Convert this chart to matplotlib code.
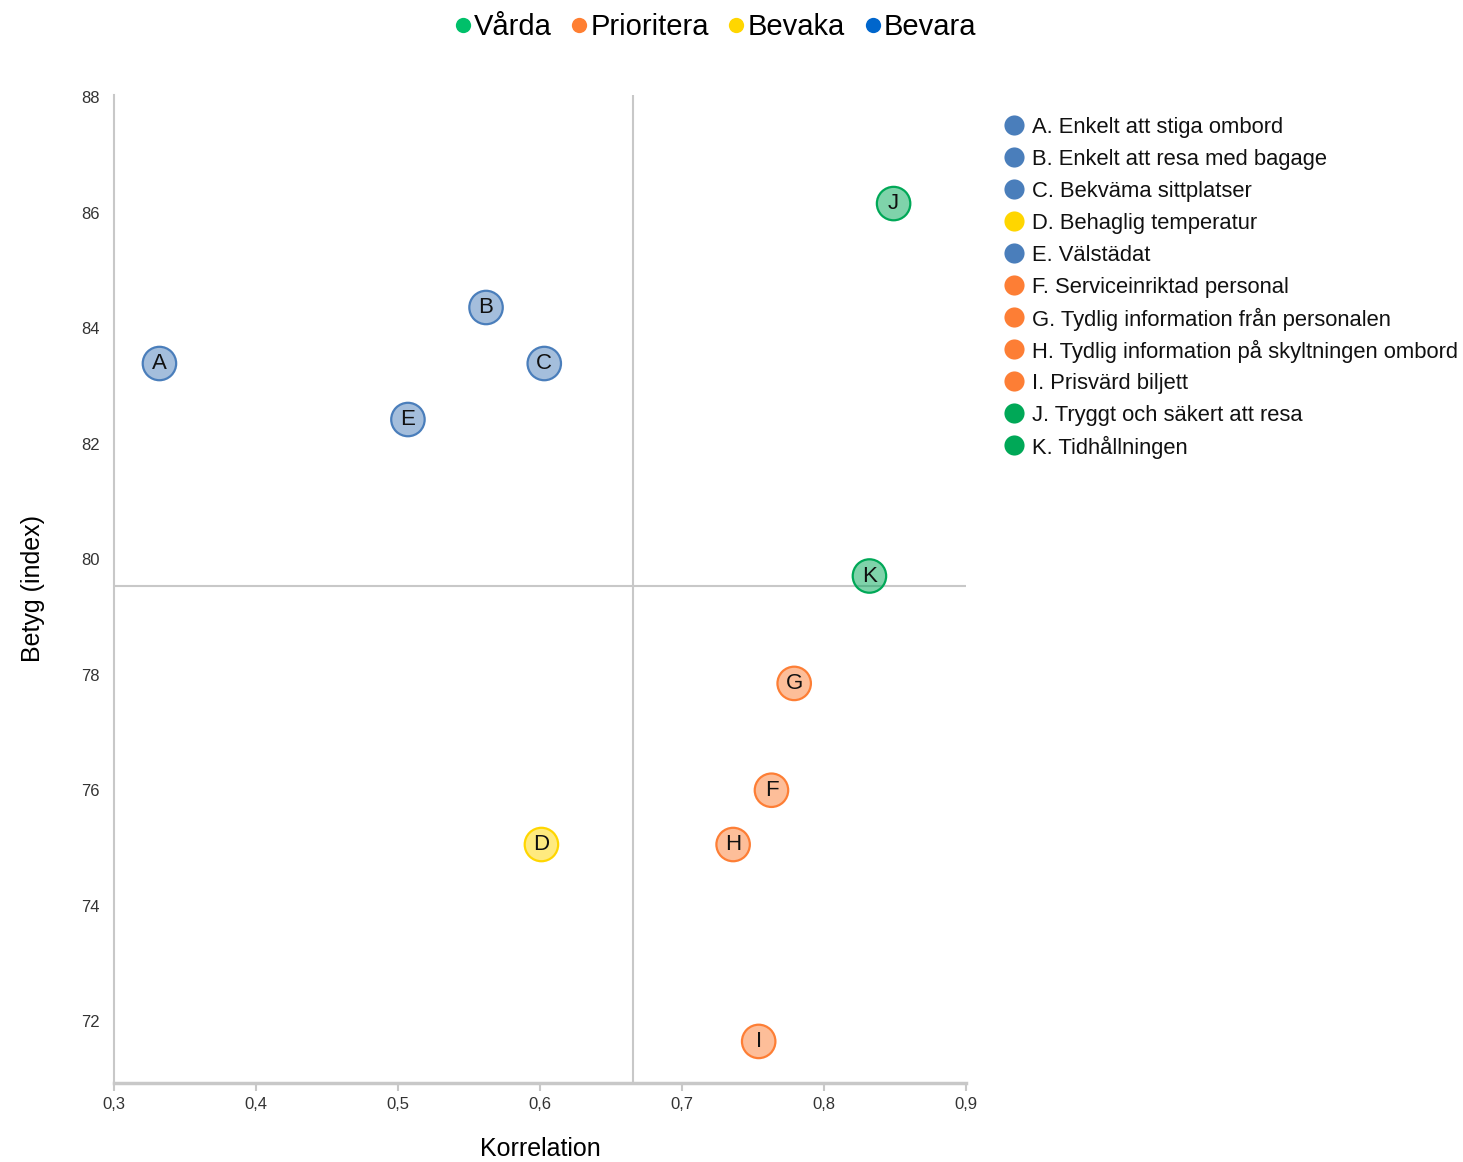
import matplotlib.pyplot as plt
from matplotlib.lines import Line2D

# --- DATA ---
letters = ["A", "B", "C", "D", "E", "F", "G", "H", "I", "J", "K"]
names = [
    "Enkelt att stiga ombord",
    "Enkelt att resa med bagage",
    "Bekväma sittplatser",
    "Behaglig temperatur",
    "Välstädat",
    "Serviceinriktad personal",
    "Tydlig information från personalen",
    "Tydlig information på skyltningen ombord",
    "Prisvärd biljett",
    "Tryggt och säkert att resa",
    "Tidhållningen",
]
korrelation = [0.332, 0.562, 0.603, 0.601, 0.507, 0.763, 0.779, 0.736, 0.754, 0.849, 0.832]
betyg = [83.39, 84.36, 83.39, 75.06, 82.42, 76.0, 77.85, 75.06, 71.65, 86.16, 79.71]
kategori = ["Bevara", "Bevara", "Bevara", "Bevaka", "Bevara",
            "Prioritera", "Prioritera", "Prioritera", "Prioritera",
            "Vårda", "Vårda"]

mean_korrelation = 0.6655
mean_betyg = 79.53

quadrants = ["Vårda", "Prioritera", "Bevaka", "Bevara"]
quadrant_colors = {"Vårda": "#00c06a", "Prioritera": "#ff7f32", "Bevaka": "#ffd600", "Bevara": "#0066cc"}
point_colors = {"Vårda": "#00a857", "Prioritera": "#fd7e35", "Bevaka": "#ffd600", "Bevara": "#4a7ebb"}

REG = ["Liberation Sans", "DejaVu Sans"]
W, H = 1463, 1162

# --- PLOT ---
fig = plt.figure(figsize=(W / 100, H / 100), dpi=100)
ax = fig.add_axes([114 / W, 1 - 1083 / H, (966 - 114) / W, (1083 - 95) / H])

ax.set_xlim(0.3, 0.9)
ax.set_ylim(70.93, 88.04)

ax.axvline(mean_korrelation, color="#c8c8c8", lw=1.5, zorder=1)
ax.axhline(mean_betyg, color="#c8c8c8", lw=1.5, zorder=1)

for x, y, lab, cat in zip(korrelation, betyg, letters, kategori):
    c = point_colors[cat]
    ax.scatter(x, y, s=580, facecolor=c, alpha=0.5, edgecolor="none", zorder=3)
    ax.scatter(x, y, s=580, facecolor="none", edgecolor=c, linewidth=1.6, zorder=4)
    ax.text(x, y, lab, ha="center", va="center", fontsize=16, family=REG, color="#111111", zorder=5)

for s in ["top", "right"]:
    ax.spines[s].set_visible(False)
ax.spines["left"].set_color("#c8c8c8")
ax.spines["left"].set_linewidth(1.5)
ax.spines["bottom"].set_color("#c8c8c8")
ax.spines["bottom"].set_linewidth(2.5)

xt = [0.3, 0.4, 0.5, 0.6, 0.7, 0.8, 0.9]
ax.set_xticks(xt)
ax.set_xticklabels([f"{v:.1f}".replace(".", ",") for v in xt], family=REG, fontsize=12, color="#333333")
yt = [72, 74, 76, 78, 80, 82, 84, 86, 88]
ax.set_yticks(yt)
ax.set_yticklabels([str(v) for v in yt], family=REG, fontsize=12, color="#333333")
ax.tick_params(axis="x", length=6, width=1.5, color="#c8c8c8", pad=4)
ax.tick_params(axis="y", length=0, pad=10)

ax.set_xlabel("Korrelation", family=REG, fontsize=18, labelpad=18)
ax.set_ylabel("Betyg (index)", family=REG, fontsize=18, labelpad=26)

# top legend (quadrants)
top_handles = [Line2D([], [], marker="o", ls="none", markersize=11, markerfacecolor=quadrant_colors[q],
                      markeredgecolor="none", label=q) for q in quadrants]
fig.legend(handles=top_handles, loc="center", bbox_to_anchor=(712 / W, 1 - 27 / H), ncol=4,
           frameon=False, handletextpad=-0.12, columnspacing=0.45, handlelength=1.0,
           prop={"family": REG, "size": 21})

# right legend (items), fixed row pitch
row_top, row_step = 125, 32
for i, (l, n, c) in enumerate(zip(letters, names, kategori)):
    yy = 1 - (row_top + i * row_step) / H
    fig.add_artist(Line2D([1014 / W], [yy], marker="o", ls="none", markersize=14.5,
                          markerfacecolor=point_colors[c], markeredgecolor="none",
                          transform=fig.transFigure))
    fig.text(1032 / W, yy, f"{l}. {n}", ha="left", va="center_baseline", family=REG,
             fontsize=15.8, color="#111111")

fig.savefig("out.png", dpi=100, facecolor="white")
